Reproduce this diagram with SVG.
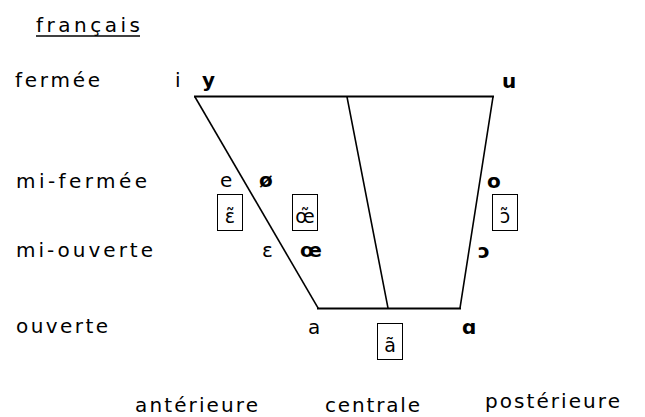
<svg xmlns="http://www.w3.org/2000/svg" width="645" height="417" viewBox="0 0 645 417">
<style>
.lbl{font-family:"DejaVu Sans","Liberation Sans",sans-serif;font-size:20px;fill:#000}
.v{font-family:"DejaVu Sans","Liberation Sans",sans-serif;font-size:20px;fill:#000}
.b{font-weight:bold}
.box{fill:#fff;stroke:#000;stroke-width:1}
.bt{font-family:"DejaVu Sans","Liberation Sans",sans-serif;font-size:19px;fill:#000;text-anchor:middle}
.ln{stroke:#000;fill:none;stroke-linecap:square}
</style>
<rect width="645" height="417" fill="#fff"/>
<g id="connectors">
<line class="ln" x1="195" y1="96.5" x2="493" y2="96.5" stroke-width="2"/>
<line class="ln" x1="318" y1="308.5" x2="460" y2="308.5" stroke-width="2"/>
<line class="ln" x1="195" y1="97" x2="318" y2="308" stroke-width="1.6"/>
<line class="ln" x1="493" y1="97" x2="460" y2="308" stroke-width="1.6"/>
<line class="ln" x1="347" y1="97" x2="388" y2="308" stroke-width="1.6"/>
</g>
<g id="title">
<text class="lbl" x="36" y="32" textLength="104" lengthAdjust="spacing">français</text>
<line x1="36" y1="36" x2="140" y2="36" stroke="#000" stroke-width="1.5"/>
</g>
<g id="row-labels">
<text class="lbl" x="15" y="87" textLength="85" lengthAdjust="spacing">fermée</text>
<text class="lbl" x="16" y="188" textLength="131" lengthAdjust="spacing">mi-fermée</text>
<text class="lbl" x="16" y="257" textLength="137" lengthAdjust="spacing">mi-ouverte</text>
<text class="lbl" x="16" y="333" textLength="92" lengthAdjust="spacing">ouverte</text>
</g>
<g id="col-labels">
<text class="lbl" x="135" y="412" textLength="123" lengthAdjust="spacing">antérieure</text>
<text class="lbl" x="325" y="412" textLength="95" lengthAdjust="spacing">centrale</text>
<text class="lbl" x="485" y="408" textLength="135" lengthAdjust="spacing">postérieure</text>
</g>
<g id="vowel-i"><text class="v" x="175" y="87">i</text></g>
<g id="vowel-y"><text class="v b" x="202" y="87">y</text></g>
<g id="vowel-u"><text class="v b" x="502" y="88">u</text></g>
<g id="vowel-e"><text class="v" x="220" y="187">e</text></g>
<g id="vowel-oe-slash"><text class="v b" x="259" y="187">ø</text></g>
<g id="vowel-o"><text class="v b" x="487" y="188">o</text></g>
<g id="vowel-epsilon"><text class="v" x="262" y="257">ε</text></g>
<g id="vowel-oe"><text class="v b" x="300" y="257">œ</text></g>
<g id="vowel-open-o"><text class="v b" x="478" y="258">ɔ</text></g>
<g id="vowel-a"><text class="v" x="308" y="334">a</text></g>
<g id="vowel-alpha"><text class="v b" x="462" y="334">ɑ</text></g>
<g id="nasal-epsilon"><rect class="box" x="217.5" y="194.5" width="25" height="36"/><text class="bt" x="230" y="223">ε̃</text></g>
<g id="nasal-oe"><rect class="box" x="292.5" y="194.5" width="25" height="36"/><text class="bt" x="305" y="223">œ̃</text></g>
<g id="nasal-open-o"><rect class="box" x="492.5" y="194.5" width="25" height="36"/><text class="bt" x="505" y="223">ɔ̃</text></g>
<g id="nasal-a"><rect class="box" x="377.5" y="323.5" width="25" height="36"/><text class="bt" x="390" y="352">ã</text></g>
</svg>
